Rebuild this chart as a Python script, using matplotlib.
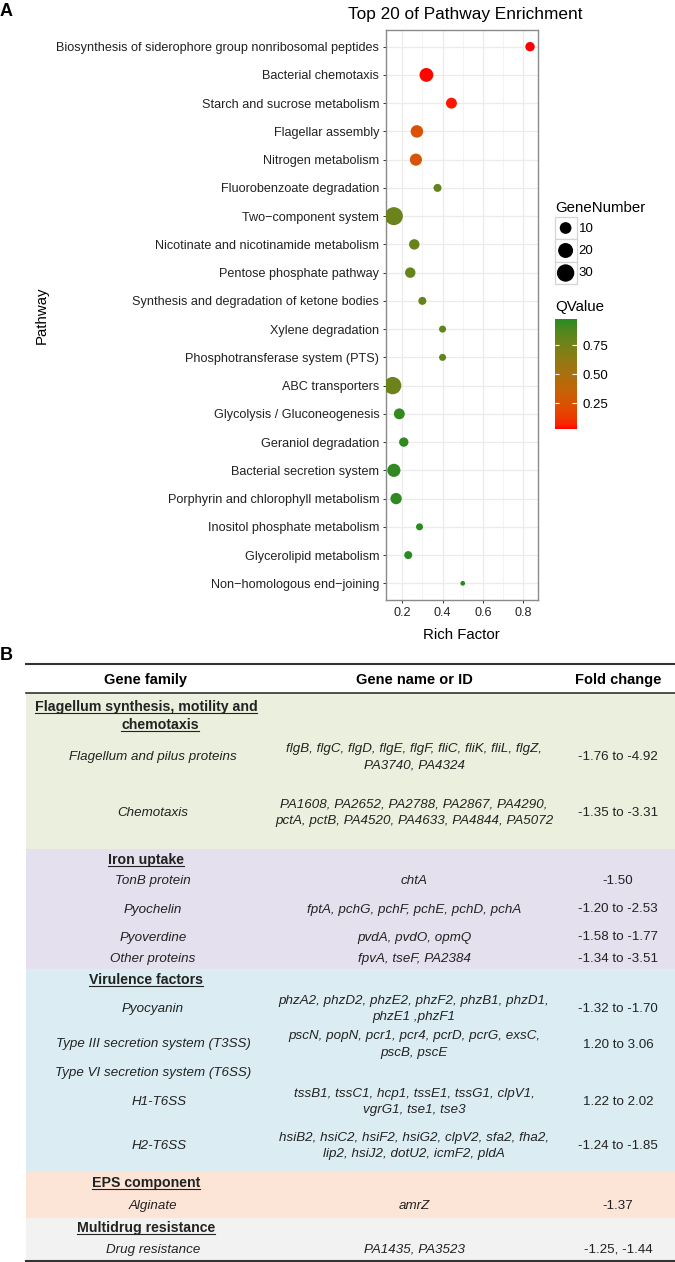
import numpy as np
import matplotlib
matplotlib.use("Agg")
import matplotlib.pyplot as plt
from matplotlib.colors import ListedColormap, to_rgb
from matplotlib.patches import Rectangle

plt.rcParams['font.family'] = ['Liberation Sans', 'DejaVu Sans']

# ---- panel A data (top to bottom) ----
pathways = [
    "Biosynthesis of siderophore group nonribosomal peptides",
    "Bacterial chemotaxis",
    "Starch and sucrose metabolism",
    "Flagellar assembly",
    "Nitrogen metabolism",
    "Fluorobenzoate degradation",
    "Two\u2212component system",
    "Nicotinate and nicotinamide metabolism",
    "Pentose phosphate pathway",
    "Synthesis and degradation of ketone bodies",
    "Xylene degradation",
    "Phosphotransferase system (PTS)",
    "ABC transporters",
    "Glycolysis / Gluconeogenesis",
    "Geraniol degradation",
    "Bacterial secretion system",
    "Porphyrin and chlorophyll metabolism",
    "Inositol phosphate metabolism",
    "Glycerolipid metabolism",
    "Non\u2212homologous end\u2212joining",
]
rich_factor = [0.833, 0.32, 0.444, 0.273, 0.268, 0.375, 0.159, 0.26, 0.24, 0.30,
               0.40, 0.40, 0.153, 0.186, 0.208, 0.159, 0.17, 0.286, 0.23, 0.50]
gene_number = [5, 16, 8, 12, 11, 3, 33, 7, 7, 3, 2, 2, 30, 8, 5, 14, 9, 2, 3, 1]
q_value = [0.03, 0.035, 0.05, 0.24, 0.26, 0.80, 0.78, 0.79, 0.80, 0.81,
           0.82, 0.82, 0.78, 0.94, 0.95, 0.95, 0.95, 0.96, 0.96, 0.973]
size_breaks = [10, 20, 30]
q_ticks = [0.25, 0.50, 0.75]
x_ticks = [0.2, 0.4, 0.6, 0.8]

# ---- panel B data ----
table_headers = ["Gene family", "Gene name or ID", "Fold change"]
group_titles = ["Flagellum synthesis, motility and\nchemotaxis", "Iron uptake",
                "Virulence factors", "EPS component", "Multidrug resistance"]
families = ["Flagellum and pilus proteins", "Chemotaxis", "TonB protein", "Pyochelin",
            "Pyoverdine", "Other proteins", "Pyocyanin", "Type III secretion system (T3SS)",
            "Type VI secretion system (T6SS)", "H1-T6SS", "H2-T6SS", "Alginate",
            "Drug resistance"]
genes = [
    "flgB, flgC, flgD, flgE, flgF, fliC, fliK, fliL, flgZ,\nPA3740, PA4324",
    "PA1608, PA2652, PA2788, PA2867, PA4290,\npctA, pctB, PA4520, PA4633, PA4844, PA5072",
    "chtA",
    "fptA, pchG, pchF, pchE, pchD, pchA",
    "pvdA, pvdO, opmQ",
    "fpvA, tseF, PA2384",
    "phzA2, phzD2, phzE2, phzF2, phzB1, phzD1,\nphzE1 ,phzF1",
    "pscN, popN, pcr1, pcr4, pcrD, pcrG, exsC,\npscB, pscE",
    "",
    "tssB1, tssC1, hcp1, tssE1, tssG1, clpV1,\nvgrG1, tse1, tse3",
    "hsiB2, hsiC2, hsiF2, hsiG2, clpV2, sfa2, fha2,\nlip2, hsiJ2, dotU2, icmF2, pldA",
    "amrZ",
    "PA1435, PA3523",
]
fold_change = ["-1.76 to -4.92", "-1.35 to -3.31", "-1.50", "-1.20 to -2.53",
               "-1.58 to -1.77", "-1.34 to -3.51", "-1.32 to -1.70", "1.20 to 3.06",
               "", "1.22 to 2.02", "-1.24 to -1.85", "-1.37", "-1.25, -1.44"]


# red -> forestgreen gradient interpolated in Lab, like ggplot's default
M = np.array([[0.4124, 0.3576, 0.1805], [0.2126, 0.7152, 0.0722], [0.0193, 0.1192, 0.9505]])
WHITE = M.sum(axis=1)


def to_lab(c):
    c = np.array(to_rgb(c))
    lin = np.where(c <= 0.04045, c / 12.92, ((c + 0.055) / 1.055) ** 2.4)
    xyz = M @ lin / WHITE
    f = np.where(xyz > 0.008856, np.cbrt(xyz), 7.787 * xyz + 16 / 116)
    return np.array([116 * f[1] - 16, 500 * (f[0] - f[1]), 200 * (f[1] - f[2])])


def from_lab(lab):
    fy = (lab[0] + 16) / 116
    f = np.array([fy + lab[1] / 500, fy, fy - lab[2] / 200])
    xyz = np.where(f > 0.2069, f ** 3, (f - 16 / 116) / 7.787) * WHITE
    lin = np.clip(np.linalg.solve(M, xyz), 0, 1)
    return np.where(lin <= 0.0031308, 12.92 * lin, 1.055 * lin ** (1 / 2.4) - 0.055)


lab_lo, lab_hi = to_lab("#FF0000"), to_lab("#228B22")
cmap = ListedColormap([from_lab(lab_lo + t * (lab_hi - lab_lo)) for t in np.linspace(0, 1, 256)])


def dot_area(n):
    # ggplot-like area scale: diameter in px grows with sqrt of rescaled count
    n = np.asarray(n, dtype=float)
    d_px = 4.7 + 13.3 * np.sqrt((n - min(gene_number)) / (max(gene_number) - min(gene_number)))
    return (d_px * 0.72) ** 2


W, H = 675, 1262


def fig_rect(x0, y0, x1, y1):
    return [x0 / W, 1 - y1 / H, (x1 - x0) / W, (y1 - y0) / H]


fig = plt.figure(figsize=(W / 100, H / 100), dpi=100)
ov = fig.add_axes([0, 0, 1, 1])
ov.set_xlim(0, W)
ov.set_ylim(H, 0)
ov.axis("off")

# ---------------- panel A ----------------
ax = fig.add_axes(fig_rect(386, 30, 537.5, 600))
ypos = np.arange(len(pathways))[::-1]
sc = ax.scatter(rich_factor, ypos, s=dot_area(gene_number), c=q_value, cmap=cmap,
                vmin=min(q_value), vmax=max(q_value), linewidths=0, zorder=3)
ax.set_xlim(0.12, 0.87)
ax.set_ylim(-0.59, len(pathways) - 0.41)
ax.set_yticks(ypos)
ax.set_yticklabels(pathways, fontsize=9.1, color="#222222")
ax.set_xticks(x_ticks)
ax.set_xticklabels([f"{t:.1f}" for t in x_ticks], fontsize=9.1, color="#222222")
ax.set_xticks([0.3, 0.5, 0.7], minor=True)
ax.grid(True, which="major", color="#ebebeb", lw=0.9, zorder=0)
ax.grid(True, which="minor", axis="x", color="#f2f2f2", lw=0.6, zorder=0)
ax.set_axisbelow(True)
ax.tick_params(which="major", length=2.3, width=0.7, color="#333333", pad=2.5)
ax.tick_params(which="minor", length=0)
for sp in ax.spines.values():
    sp.set_color("#8a8a8a")
    sp.set_linewidth(1.0)
ax.set_xlabel("Rich Factor", fontsize=10.8, labelpad=2)
ax.xaxis.set_label_coords(0.5, (600 - 628) / 570, transform=ax.transAxes)
ov.text(465, 14.5, "Top 20 of Pathway Enrichment", fontsize=12.4, ha="center", va="center")
ov.text(42, 315, "Pathway", rotation=90, ha="center", va="center", fontsize=10.8)
ov.text(0, 11, "A", fontsize=13, fontweight="bold", ha="left", va="center")

# size legend
ov.text(555, 208, "GeneNumber", fontsize=10.8, ha="left", va="center")
key_y = [228, 250.5, 273]
for yk in key_y:
    ov.add_patch(Rectangle((554.5, yk - 11.2), 22.2, 22.4, facecolor="white",
                           edgecolor="#d4d4d4", lw=0.9, zorder=1))
ov.scatter([565.6] * len(size_breaks), key_y, s=dot_area(size_breaks), c="black",
           linewidths=0, zorder=2)
for yk, b in zip(key_y, size_breaks):
    ov.text(578.5, yk + 0.5, str(b), fontsize=9.5, ha="left", va="center")

# colour legend
ov.text(555, 307, "QValue", fontsize=10.8, ha="left", va="center")
cax = fig.add_axes(fig_rect(554.5, 319, 576.5, 429))
cb = fig.colorbar(sc, cax=cax, ticks=q_ticks)
cb.outline.set_visible(False)
cb.ax.set_yticklabels([f"{t:.2f}" for t in q_ticks], fontsize=9.5)
cb.ax.tick_params(length=0, pad=4)
cb.ax.hlines(q_ticks, 0, 0.2, color="white", lw=0.8)
cb.ax.hlines(q_ticks, 0.8, 1, color="white", lw=0.8)

# ---------------- panel B ----------------
ov.text(0, 655, "B", fontsize=13, fontweight="bold", ha="left", va="center")

band_colors = ["#ebefdd", "#e5e0ed", "#dbedf3", "#fce4d6", "#f2f2f2"]
band_edges = [693, 849, 969, 1171.5, 1217.5, 1260]
for i, col in enumerate(band_colors):
    ov.add_patch(Rectangle((26, band_edges[i]), W - 26, band_edges[i + 1] - band_edges[i],
                           facecolor=col, edgecolor="none", zorder=0))
ov.plot([26, W], [664, 664], color="#333333", lw=1.5)
ov.plot([26, W], [693, 693], color="#333333", lw=1.2)
ov.plot([26, W], [1260.5, 1260.5], color="#333333", lw=1.5)

col_x = [146, 414, 618]
for x, h in zip(col_x, table_headers):
    ov.text(x, 680, h, fontsize=10.5, fontweight="bold", ha="center", va="center")

title_x = [[146, 160], [146], [146], [146], [146]]
title_y = [[707.5, 725], [860], [980.5], [1183], [1228]]
title_texts = []
for g, title in enumerate(group_titles):
    for line, x, y in zip(title.split("\n"), title_x[g], title_y[g]):
        title_texts.append(ov.text(x, y, line, fontsize=10.2, fontweight="bold",
                                   ha="center", va="center", color="#222222"))

row_y = [757, 813, 881, 909.5, 937.5, 959, 1009, 1044.5, 1073, 1102, 1146, 1206, 1250]
fam_x = [153, 153, 153, 153, 153, 153, 153, 153, 153, 159.5, 159.5, 153, 153]
for i, fam in enumerate(families):
    y = row_y[i]
    ov.text(fam_x[i], y, fam, fontsize=9.6, style="italic", ha="center", va="center",
            color="#222222")
    lines = genes[i].split("\n")
    for k, line in enumerate(lines):
        ly = y + (k - (len(lines) - 1) / 2) * 16.5
        ov.text(col_x[1], ly, line, fontsize=9.6, style="italic", ha="center",
                va="center", color="#222222")
    ov.text(col_x[2], y, fold_change[i], fontsize=9.6, ha="center", va="center",
            color="#222222")

# underline the group titles
fig.canvas.draw()
inv = ov.transData.inverted()
for t in title_texts:
    bb = t.get_window_extent()
    (x0, y0), (x1, y1) = inv.transform([[bb.x0, bb.y0], [bb.x1, bb.y1]])
    ov.plot([x0, x1], [y0 - 1.5, y0 - 1.5], color="#222222", lw=0.8)

fig.savefig("out.png", dpi=100)
